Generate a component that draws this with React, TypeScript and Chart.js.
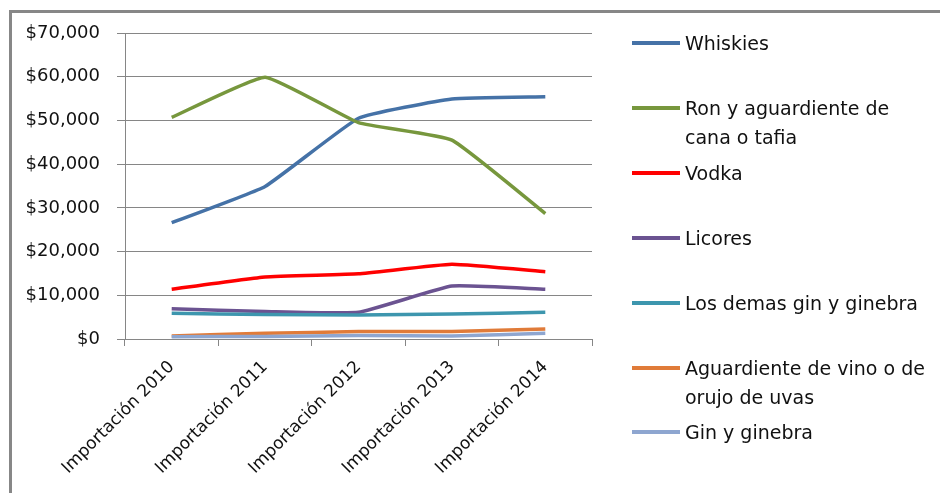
import React, { useEffect, useRef } from "react";
import { Chart, registerables } from "chart.js";

Chart.register(...registerables);

const categories = [
  "Importación 2010",
  "Importación 2011",
  "Importación 2012",
  "Importación 2013",
  "Importación 2014",
];

const seriesNames = [
  "Whiskies",
  "Ron y aguardiente de cana o tafia",
  "Vodka",
  "Licores",
  "Los demas gin y ginebra",
  "Aguardiente de vino o de orujo de uvas",
  "Gin y ginebra",
];

const whiskies = [26600, 34900, 50500, 54900, 55400];
const ron = [50700, 59900, 49500, 45500, 28700];
const vodka = [11400, 14200, 14900, 17100, 15400];
const licores = [6900, 6300, 6100, 12100, 11400];
const losDemas = [5900, 5600, 5500, 5700, 6100];
const aguardiente = [700, 1300, 1700, 1700, 2300];
const gin = [500, 600, 800, 700, 1300];

const seriesValues = [whiskies, ron, vodka, licores, losDemas, aguardiente, gin];
const seriesColors = [
  "#4572a7",
  "#77973d",
  "#ff0000",
  "#6b5391",
  "#3d96ae",
  "#e07b39",
  "#8ea6d0",
];

const yTicksMin = 0;
const yTicksMax = 70000;
const yTickStep = 10000;

const legendTops = [43, 108, 173, 238, 303, 368, 432];

export default function App() {
  const canvasRef = useRef<HTMLCanvasElement | null>(null);

  useEffect(() => {
    const canvas = canvasRef.current;
    if (!canvas) return;
    const n = seriesNames.length;
    const chart = new Chart(canvas, {
      type: "line",
      data: {
        labels: categories,
        datasets: seriesNames.map((name, i) => ({
          label: name,
          data: seriesValues[i],
          borderColor: seriesColors[i],
          backgroundColor: seriesColors[i],
          borderWidth: 3.5,
          pointRadius: 0,
          tension: 0.12,
          fill: false,
          order: n - 1 - i,
        })),
      },
      options: {
        animation: false,
        responsive: false,
        devicePixelRatio: 1,
        layout: { padding: { top: 33, right: 348, left: 0, bottom: 0 } },
        plugins: { legend: { display: false }, tooltip: { enabled: false } },
        scales: {
          x: {
            offset: true,
            grid: {
              offset: true,
              drawOnChartArea: false,
              drawTicks: true,
              tickLength: 7,
              color: "#868686",
            },
            border: { color: "#868686", width: 1 },
            ticks: {
              minRotation: 45,
              maxRotation: 45,
              color: "#111",
              padding: 11,
              font: { family: "DejaVu Sans", size: 17 },
            },
            afterFit: (scale: any) => {
              scale.height = 493 - 339;
            },
          },
          y: {
            min: yTicksMin,
            max: yTicksMax,
            grid: { color: "#868686", lineWidth: 1, tickLength: 8 },
            border: { color: "#868686", width: 1 },
            ticks: {
              stepSize: yTickStep,
              color: "#111",
              padding: 17,
              font: { family: "DejaVu Sans", size: 18 },
              callback: (v: any) => "$" + Number(v).toLocaleString("en-US"),
            },
            afterFit: (scale: any) => {
              scale.width = 125;
            },
          },
        },
      },
    });
    return () => chart.destroy();
  }, []);

  return (
    <div
      style={{
        position: "fixed",
        left: 0,
        top: 0,
        width: 940,
        height: 493,
        background: "#fff",
        overflow: "hidden",
      }}
    >
      <div
        style={{
          position: "absolute",
          left: 9,
          top: 10,
          width: 1000,
          height: 600,
          border: "3px solid #878787",
          boxSizing: "border-box",
        }}
      />
      <canvas
        ref={canvasRef}
        width={940}
        height={493}
        style={{ position: "absolute", left: 0, top: 0, width: 940, height: 493 }}
      />
      {seriesNames.map((name, i) => (
        <div key={name}>
          <div
            style={{
              position: "absolute",
              left: 632,
              top: legendTops[i] - 2,
              width: 48,
              height: 4,
              background: seriesColors[i],
            }}
          />
          <div
            style={{
              position: "absolute",
              left: 685,
              top: legendTops[i] - 14.5,
              width: 248,
              fontFamily: "DejaVu Sans",
              fontSize: 19,
              lineHeight: "29px",
              color: "#111",
            }}
          >
            {name}
          </div>
        </div>
      ))}
    </div>
  );
}
